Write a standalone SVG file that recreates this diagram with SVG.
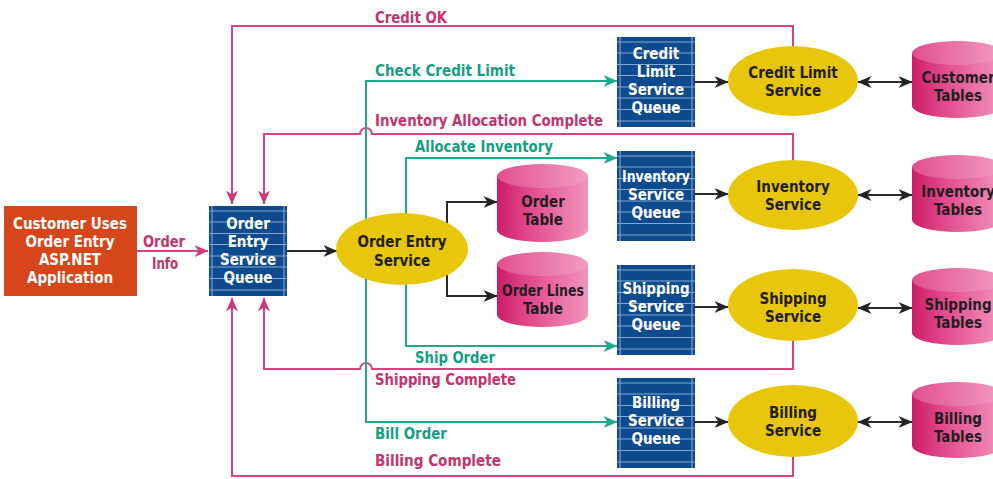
<svg xmlns="http://www.w3.org/2000/svg" xmlns:xlink="http://www.w3.org/1999/xlink" width="993" height="479" viewBox="0 0 993 479">
  <style>
    text { font-family: "Liberation Sans Narrow", "DejaVu Sans Condensed", "Liberation Sans", sans-serif; font-weight: bold; font-size: 15px; }
    .w { fill: #ffffff; text-anchor: middle; }
    .d { fill: #241d1f; text-anchor: middle; }
    .lp { fill: #c3336d; }
    .lg { fill: #169f82; }
    .pk { fill: none; stroke: #d4457f; stroke-width: 2; }
    .gr { fill: none; stroke: #1ea98b; stroke-width: 2; }
    .bk { fill: none; stroke: #2a2a2a; stroke-width: 2; }
    .svc { fill: #e7c60b; }
    .cyl-body { fill: url(#cylBody); }
    .cyl-top { fill: url(#cylTop); }
  </style>
  <defs>
    <linearGradient id="cylBody" x1="0" y1="0" x2="1" y2="0">
      <stop offset="0" stop-color="#cc1d66"/>
      <stop offset="0.35" stop-color="#e14a8b"/>
      <stop offset="1" stop-color="#f295bb"/>
    </linearGradient>
    <linearGradient id="cylTop" x1="0" y1="0" x2="1" y2="0">
      <stop offset="0" stop-color="#e0508e"/>
      <stop offset="1" stop-color="#f39cc0"/>
    </linearGradient>
    <marker id="ah-k" viewBox="0 0 14 12" refX="13.5" refY="6" markerWidth="14" markerHeight="12" markerUnits="userSpaceOnUse" orient="auto-start-reverse">
      <path d="M0,0 L14,6 L0,12 L4,6 Z" fill="#222222"/>
    </marker>
    <marker id="ah-g" viewBox="0 0 14 12" refX="13.5" refY="6" markerWidth="14" markerHeight="12" markerUnits="userSpaceOnUse" orient="auto-start-reverse">
      <path d="M0,0 L14,6 L0,12 L4,6 Z" fill="#1ea98b"/>
    </marker>
    <marker id="ah-p" viewBox="0 0 14 12" refX="13.5" refY="6" markerWidth="14" markerHeight="12" markerUnits="userSpaceOnUse" orient="auto-start-reverse">
      <path d="M0,0 L14,6 L0,12 L4,6 Z" fill="#d03a78"/>
    </marker>
    <!-- message queue: striped dark blue block -->
    <g id="queue">
      <rect x="0" y="0" width="78" height="90" fill="#0d4a8e"/>
      <g stroke="#86a8d4" stroke-width="1.1">
        <line x1="0" y1="5" x2="78" y2="5"/>
        <line x1="0" y1="16" x2="78" y2="16"/>
        <line x1="0" y1="27.5" x2="78" y2="27.5"/>
        <line x1="0" y1="38.5" x2="78" y2="38.5"/>
        <line x1="0" y1="50" x2="78" y2="50"/>
        <line x1="0" y1="61" x2="78" y2="61"/>
        <line x1="0" y1="72.5" x2="78" y2="72.5"/>
        <line x1="0" y1="84" x2="78" y2="84"/>
        <line x1="3" y1="0" x2="3" y2="90"/>
        <line x1="75" y1="0" x2="75" y2="90"/>
      </g>
    </g>
  </defs>

  <rect x="0" y="0" width="993" height="479" fill="#ffffff"/>

  <!-- connectors -->
  <g id="connectors">
    <!-- replies back to the order entry queue -->
    <path class="pk" d="M793,46 V26 H232 V204" marker-end="url(#ah-p)"/>
    <path class="pk" d="M793,160 V134 H372 A6,6 0 0 0 360,134 H264 V204" marker-end="url(#ah-p)"/>
    <path class="pk" d="M793,340 V369 H372 A6,6 0 0 0 360,369 H264 V298" marker-end="url(#ah-p)"/>
    <path class="pk" d="M793,456 V476 H232 V298" marker-end="url(#ah-p)"/>
    <path class="pk" d="M137,251 H208" marker-end="url(#ah-p)"/>
    <!-- requests to the service queues -->
    <path class="gr" d="M366,240 V81 H617" marker-end="url(#ah-g)"/>
    <path class="gr" d="M366,260 V422 H617" marker-end="url(#ah-g)"/>
    <path class="gr" d="M406,240 V158 H617" marker-end="url(#ah-g)"/>
    <path class="gr" d="M406,260 V346 H617" marker-end="url(#ah-g)"/>
    <!-- queue to service -->
    <path class="bk" d="M287,251 H337" marker-end="url(#ah-k)"/>
    <path class="bk" d="M695,82 H728" marker-end="url(#ah-k)"/>
    <path class="bk" d="M695,194 H728" marker-end="url(#ah-k)"/>
    <path class="bk" d="M695,307 H728" marker-end="url(#ah-k)"/>
    <path class="bk" d="M695,422 H728" marker-end="url(#ah-k)"/>
    <!-- order entry service to its tables -->
    <path class="bk" d="M447,240 V202 H497" marker-end="url(#ah-k)"/>
    <path class="bk" d="M447,260 V296 H497" marker-end="url(#ah-k)"/>
    <!-- services to their tables -->
    <path class="bk" d="M858,82 H912" marker-start="url(#ah-k)" marker-end="url(#ah-k)"/>
    <path class="bk" d="M858,195 H912" marker-start="url(#ah-k)" marker-end="url(#ah-k)"/>
    <path class="bk" d="M858,308 H912" marker-start="url(#ah-k)" marker-end="url(#ah-k)"/>
    <path class="bk" d="M858,422 H912" marker-start="url(#ah-k)" marker-end="url(#ah-k)"/>

    <!-- connector labels -->
    <text class="lp" x="375" y="23" textLength="72" lengthAdjust="spacingAndGlyphs">Credit OK</text>
    <text class="lg" x="375" y="76" textLength="140" lengthAdjust="spacingAndGlyphs">Check Credit Limit</text>
    <text class="lp" x="375" y="126" textLength="228" lengthAdjust="spacingAndGlyphs">Inventory Allocation Complete</text>
    <text class="lg" x="415" y="152" textLength="138" lengthAdjust="spacingAndGlyphs">Allocate Inventory</text>
    <text class="lg" x="415" y="363" textLength="80" lengthAdjust="spacingAndGlyphs">Ship Order</text>
    <text class="lp" x="375" y="385" textLength="141" lengthAdjust="spacingAndGlyphs">Shipping Complete</text>
    <text class="lg" x="375" y="439" textLength="72" lengthAdjust="spacingAndGlyphs">Bill Order</text>
    <text class="lp" x="375" y="466" textLength="126" lengthAdjust="spacingAndGlyphs">Billing Complete</text>
    <text class="lp" x="143" y="247" textLength="42" lengthAdjust="spacingAndGlyphs">Order</text>
    <text class="lp" x="152" y="269" textLength="26" lengthAdjust="spacingAndGlyphs">Info</text>
  </g>

  <g id="n-customer-app">
    <rect x="4" y="206" width="133" height="90" fill="#d5461b"/>
    <text class="w" x="70" y="229">Customer Uses</text>
    <text class="w" x="70" y="247">Order Entry</text>
    <text class="w" x="70" y="265">ASP.NET</text>
    <text class="w" x="70" y="283">Application</text>
  </g>

  <g id="n-order-entry-queue">
    <use xlink:href="#queue" x="209" y="206"/>
    <text class="w" x="248" y="229">Order</text>
    <text class="w" x="248" y="247">Entry</text>
    <text class="w" x="248" y="265">Service</text>
    <text class="w" x="248" y="283">Queue</text>
  </g>

  <g id="n-order-entry-service">
    <ellipse class="svc" cx="402" cy="249" rx="66" ry="36"/>
    <text class="d" x="402" y="247">Order Entry</text>
    <text class="d" x="402" y="266">Service</text>
  </g>

  <g id="n-order-table">
    <path class="cyl-body" d="M497,176 V230 A45.5,12 0 0 0 588,230 V176 Z"/>
    <ellipse class="cyl-top" cx="542.5" cy="176" rx="45.5" ry="12"/>
    <text class="d" x="543" y="207">Order</text>
    <text class="d" x="543" y="225">Table</text>
  </g>

  <g id="n-order-lines-table">
    <path class="cyl-body" d="M497,264 V315 A45.5,12 0 0 0 588,315 V264 Z"/>
    <ellipse class="cyl-top" cx="542.5" cy="264" rx="45.5" ry="12"/>
    <text class="d" x="543" y="296" textLength="82" lengthAdjust="spacingAndGlyphs">Order Lines</text>
    <text class="d" x="543" y="314">Table</text>
  </g>

  <g id="n-credit-queue">
    <use xlink:href="#queue" x="617" y="37"/>
    <text class="w" x="656" y="59">Credit</text>
    <text class="w" x="656" y="77">Limit</text>
    <text class="w" x="656" y="95">Service</text>
    <text class="w" x="656" y="113">Queue</text>
  </g>

  <g id="n-inventory-queue">
    <use xlink:href="#queue" x="617" y="151"/>
    <text class="w" x="656" y="182" textLength="68" lengthAdjust="spacingAndGlyphs">Inventory</text>
    <text class="w" x="656" y="200">Service</text>
    <text class="w" x="656" y="218">Queue</text>
  </g>

  <g id="n-shipping-queue">
    <use xlink:href="#queue" x="617" y="265"/>
    <text class="w" x="656" y="294">Shipping</text>
    <text class="w" x="656" y="312">Service</text>
    <text class="w" x="656" y="330">Queue</text>
  </g>

  <g id="n-billing-queue">
    <use xlink:href="#queue" x="617" y="378"/>
    <text class="w" x="656" y="408">Billing</text>
    <text class="w" x="656" y="426">Service</text>
    <text class="w" x="656" y="444">Queue</text>
  </g>

  <g id="n-credit-service">
    <ellipse class="svc" cx="793" cy="81" rx="65" ry="35"/>
    <text class="d" x="793" y="78">Credit Limit</text>
    <text class="d" x="793" y="96">Service</text>
  </g>

  <g id="n-inventory-service">
    <ellipse class="svc" cx="793" cy="195" rx="65" ry="35"/>
    <text class="d" x="793" y="192">Inventory</text>
    <text class="d" x="793" y="210">Service</text>
  </g>

  <g id="n-shipping-service">
    <ellipse class="svc" cx="793" cy="305" rx="65" ry="36"/>
    <text class="d" x="793" y="304">Shipping</text>
    <text class="d" x="793" y="322">Service</text>
  </g>

  <g id="n-billing-service">
    <ellipse class="svc" cx="793" cy="421" rx="65" ry="36"/>
    <text class="d" x="793" y="418">Billing</text>
    <text class="d" x="793" y="436">Service</text>
  </g>

  <g id="n-customer-tables">
    <path class="cyl-body" d="M912,53 V106 A45.5,12 0 0 0 1003,106 V53 Z"/>
    <ellipse class="cyl-top" cx="957.5" cy="53" rx="45.5" ry="12"/>
    <text class="d" x="958" y="83">Customer</text>
    <text class="d" x="958" y="101">Tables</text>
  </g>

  <g id="n-inventory-tables">
    <path class="cyl-body" d="M912,167 V220 A45.5,12 0 0 0 1003,220 V167 Z"/>
    <ellipse class="cyl-top" cx="957.5" cy="167" rx="45.5" ry="12"/>
    <text class="d" x="958" y="197">Inventory</text>
    <text class="d" x="958" y="215">Tables</text>
  </g>

  <g id="n-shipping-tables">
    <path class="cyl-body" d="M912,280 V333 A45.5,12 0 0 0 1003,333 V280 Z"/>
    <ellipse class="cyl-top" cx="957.5" cy="280" rx="45.5" ry="12"/>
    <text class="d" x="958" y="310">Shipping</text>
    <text class="d" x="958" y="328">Tables</text>
  </g>

  <g id="n-billing-tables">
    <path class="cyl-body" d="M912,394 V446 A45.5,12 0 0 0 1003,446 V394 Z"/>
    <ellipse class="cyl-top" cx="957.5" cy="394" rx="45.5" ry="12"/>
    <text class="d" x="958" y="424">Billing</text>
    <text class="d" x="958" y="442">Tables</text>
  </g>
</svg>
